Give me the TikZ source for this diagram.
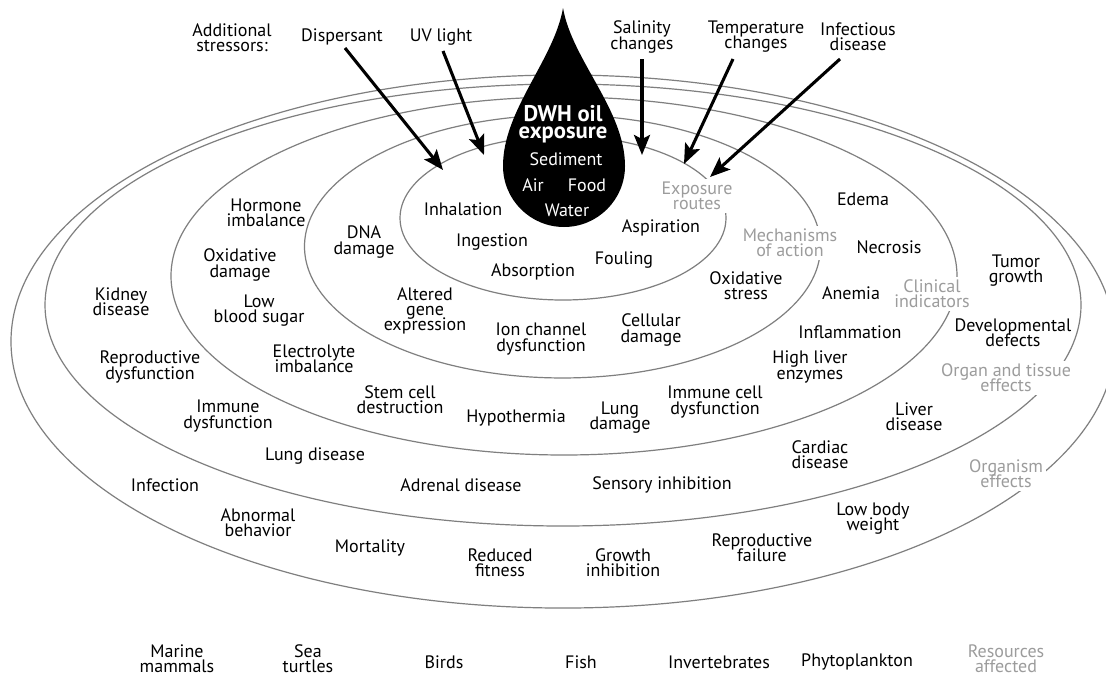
\documentclass[tikz,border=0pt]{standalone}
\usepackage{fontspec}
\setmainfont{PT Sans}
\usetikzlibrary{arrows.meta}
\definecolor{ringc}{HTML}{7F7F7F}
\definecolor{labc}{HTML}{9C9C9C}
\newcommand\mytightls{\lineskiplimit=-30pt\relax}
\begin{document}
\begin{tikzpicture}[x=0.75pt,y=-0.75pt,
  every node/.style={font=\fontsize{13.5}{11.4}\selectfont\mytightls, align=center, inner sep=1pt},
  ring/.style={draw=ringc, line width=0.9pt},
  cat/.style={text=labc, fill=white, inner sep=2pt},
  wtxt/.style={text=white},
  arr/.style={line width=2.3pt, -{Stealth[length=15pt,width=12pt,inset=3pt]}}]
\clip (0,0) rectangle (1106,678);
\fill[white] (0,0) rectangle (1106,678);
% rings
\draw[ring] (563,341.5) ellipse [x radius=414pt, y radius=199.9pt];
\draw[ring] (563,305) ellipse [x radius=388.5pt, y radius=165.75pt];
\draw[ring] (564,276) ellipse [x radius=294.75pt, y radius=134.25pt];
\draw[ring] (562.5,246.5) ellipse [x radius=193.5pt, y radius=98.6pt];
\draw[ring] (563,218) ellipse [x radius=122.25pt, y radius=61.5pt];
% category labels
\node[cat] (exp) at (697,196) {Exposure\\routes};
\node[cat] (moa) at (790,243) {Mechanisms\\of action};
\node[cat] (clin) at (932,294) {Clinical\\indicators};
\node[cat] (org) at (1006,378) {Organ and tissue\\effects};
\node[cat] (orgm) at (1006,474) {Organism\\effects};
\node[text=labc] (res) at (1006,659) {Resources\\affected};
% drop
\fill[black] (563,8) .. controls (572,60) and (625,110) .. (625,166)
  .. controls (625,199.7) and (597.7,227) .. (564,227)
  .. controls (530.3,227) and (503,199.7) .. (503,166)
  .. controls (503,110) and (554,60) .. (563,8) -- cycle;
\node[wtxt, font=\fontsize{17}{12.4}\selectfont\bfseries\mytightls] (dwh) at (563,124) {DWH oil\\exposure};
\node[wtxt] (sed) at (566,159) {Sediment};
\node[wtxt] (air) at (533,185) {Air};
\node[wtxt] (food) at (587,185) {Food};
\node[wtxt] (wat) at (567,210) {Water};
% stressors
\node (add) at (232,38) {Additional\\stressors:};
\node (disp) at (342,37) {Dispersant};
\node (uv) at (441,37) {UV light};
\node (sal) at (642,37) {Salinity\\changes};
\node (temp) at (756,37) {Temperature\\changes};
\node (inf) at (858,37) {Infectious\\disease};
\coordinate (d1) at (345,48); \coordinate (d2) at (443,170);
\coordinate (u1) at (443,51); \coordinate (u2) at (484,155);
\coordinate (s1) at (642,59); \coordinate (s2) at (642,155);
\coordinate (t1) at (733,59); \coordinate (t2) at (684,164);
\coordinate (i1) at (840,59); \coordinate (i2) at (710,177);
\draw[arr] (d1) -- (d2);
\draw[arr] (u1) -- (u2);
\draw[arr] (s1) -- (s2);
\draw[arr] (t1) -- (t2);
\draw[arr] (i1) -- (i2);
% exposure routes
\node (inh) at (463,209) {Inhalation};
\node (ing) at (492,242) {Ingestion};
\node (abs) at (533,272) {Absorption};
\node (foul) at (624,260) {Fouling};
\node (asp) at (661,228) {Aspiration};
% mechanisms
\node (dna) at (364,242) {DNA\\damage};
\node (alt) at (425,311) {Altered\\gene\\expression};
\node (ion) at (541,339) {Ion channel\\dysfunction};
\node (cel) at (651,330) {Cellular\\damage};
\node (oxs) at (746,286) {Oxidative\\stress};
% clinical
\node (hor) at (266,213) {Hormone\\imbalance};
\node (oxd) at (240,265) {Oxidative\\damage};
\node (lbs) at (259,311) {Low\\blood sugar};
\node (ele) at (314,359) {Electrolyte\\imbalance};
\node (stem) at (400,400) {Stem cell\\destruction};
\node (hyp) at (516,418) {Hypothermia};
\node (lung) at (620,418) {Lung\\damage};
\node (imc) at (715,402) {Immune cell\\dysfunction};
\node (hle) at (810,367) {High liver\\enzymes};
\node (infl) at (850,332) {Inflammation};
\node (ane) at (851,293) {Anemia};
\node (nec) at (889,247) {Necrosis};
\node (ede) at (863,199) {Edema};
% organ and tissue
\node (kid) at (121,302) {Kidney\\disease};
\node (rep) at (150,367) {Reproductive\\dysfunction};
\node (imm) at (228,416) {Immune\\dysfunction};
\node (lud) at (315,456) {Lung disease};
\node (infe) at (165,485) {Infection};
\node (adr) at (461,485) {Adrenal disease};
\node (sen) at (662,485) {Sensory inhibition};
\node (car) at (820,455) {Cardiac\\disease};
\node (liv) at (914,417) {Liver\\disease};
\node (tum) at (1016,271) {Tumor\\growth};
\node (dev) at (1013,333) {Developmental\\defects};
% organism
\node (abn) at (258,523) {Abnormal\\behavior};
\node (mor) at (370,548) {Mortality};
\node (red) at (500,563) {Reduced\\fitness};
\node (gro) at (623,563) {Growth\\inhibition};
\node (rpf) at (762,548) {Reproductive\\failure};
\node (lbw) at (873,519) {Low body\\weight};
% resources
\node (mm) at (177,659) {Marine\\mammals};
\node (st) at (308,659) {Sea\\turtles};
\node (bir) at (444,662) {Birds};
\node (fis) at (581,662) {Fish};
\node (inv) at (719,662) {Invertebrates};
\node (phy) at (857,662) {Phytoplankton};
\end{tikzpicture}
\end{document}
